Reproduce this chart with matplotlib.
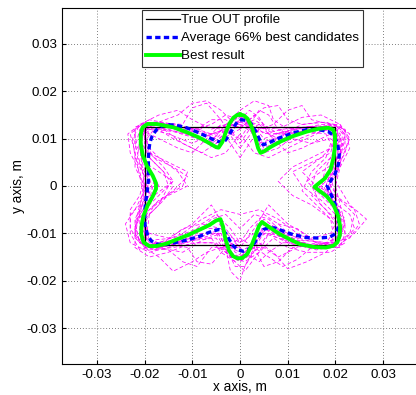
"""
Filename: plot.py
Description: OUT profile reconstruction - true rectangle, candidate
profiles, their average and the best result.
"""
import numpy as np
import matplotlib
matplotlib.use('Agg')
import matplotlib.pyplot as plt

plt.rcParams['font.family'] = ['Liberation Sans', 'DejaVu Sans']

# all coordinates below in mm
true_x = [-20, 20, 20, -20, -20]
true_y = [12.5, 12.5, -12.5, -12.5, 12.5]

best = [(0, 15.1), (0.8, 14.9), (1.6, 14.2), (2.4, 12.6), (3.2, 10.2),
        (3.8, 8.0), (4.3, 7.0), (5.0, 7.3), (6.5, 8.3), (8.5, 9.4), (11, 10.5),
        (14, 11.5), (16.5, 12.1), (18.5, 12.3), (19.5, 11.9), (19.9, 10.8),
        (19.9, 8.5), (19.6, 6), (19, 3.5), (17.8, 1.6), (16.2, 0.3),
        (15.6, -0.2), (16.5, -0.9), (18.2, -2.2), (19.6, -4), (20.6, -6.4),
        (21, -8.6), (20.9, -10.5), (20.4, -11.9), (19.6, -12.6), (18, -13),
        (15.5, -12.9), (12.6, -12.3), (10.5, -11.3), (8.4, -10.2), (6, -8.6),
        (4.6, -7.6), (4.0, -8.4), (3.3, -10.3), (2.4, -12.6), (1.5, -14.4),
        (0.5, -15.2), (-0.5, -15.3), (-1.5, -14.8), (-2.3, -13.6),
        (-3.0, -11.4), (-3.6, -8.5), (-4.1, -7.0), (-5, -7.3), (-6.5, -8.3),
        (-8.4, -9.2), (-11, -10.4), (-13.3, -11.3), (-15.5, -12.2),
        (-17.5, -12.7), (-19, -12.7), (-20.2, -11.9), (-20.7, -10.2),
        (-20.6, -8.2), (-20.2, -6.2), (-19.4, -4.2), (-18.3, -2.2),
        (-17.6, -0.6), (-17.6, 0.6), (-18.3, 2.2), (-19.5, 4.2), (-20.4, 6.5),
        (-20.8, 9), (-20.8, 11), (-20.4, 12.4), (-19.4, 13.1), (-17.5, 13.1),
        (-14, 12.4), (-11, 11.3), (-8.5, 10.2), (-6.5, 9.1), (-5, 8.2),
        (-4.5, 8.1), (-3.7, 9.3), (-3, 11.3), (-2.2, 13.2), (-1.4, 14.4),
        (-0.6, 15), (0, 15.1)]

average = [(0, 14.0), (1.2, 13.9), (2.3, 13.2), (3.3, 11.5), (4.2, 9.6),
           (4.9, 8.7), (6, 9.1), (7.5, 9.8), (9.1, 10.5), (11.5, 11.3),
           (14, 11.9), (16.5, 11.9), (18.5, 11.5), (19.7, 10.6), (20.4, 9),
           (20.8, 6.8), (20.6, 4.5), (19.9, 2.5), (18.8, 0.8), (18.3, 0),
           (18.8, -1.2), (19.6, -2.9), (20.3, -5), (20.7, -7), (20.6, -8.8),
           (20, -10.1), (18.8, -10.8), (16.5, -11), (14, -10.9), (11.2, -10.3),
           (9, -9.5), (7.5, -8.9), (6, -8.8), (4.9, -9.2), (3.8, -10.8),
           (2.8, -12.4), (1.8, -13.4), (0.7, -13.8), (-0.4, -13.5),
           (-1.4, -12.7), (-2.2, -11.4), (-2.9, -10.1), (-3.7, -9.3),
           (-4.5, -9.2), (-6.5, -9.8), (-8.4, -10.6), (-11, -11.4),
           (-13.3, -11.9), (-15.5, -12.3), (-17.5, -12.3), (-18.7, -11.5),
           (-19.4, -10.2), (-19.9, -8.3), (-20, -5.5), (-19.7, -2.9),
           (-19.4, -0.8), (-19.2, 1.3), (-19.2, 3.5), (-19.2, 5.6),
           (-19.1, 7.5), (-18.9, 9.1), (-18.4, 10.6), (-17.5, 11.9),
           (-16.5, 12.6), (-15.4, 13.0), (-13.3, 12.8), (-11.2, 12.3),
           (-9, 11.4), (-7.0, 10.5), (-5.2, 9.6), (-3.5, 9.1), (-2.5, 10.4),
           (-1.4, 12.3), (-0.6, 13.5), (0, 14.0)]

candidates = [
    [(0, 13.5), (3, 12.5), (5, 10), (9, 11.5), (14, 12.5), (19, 12.8), (21, 11),
     (21, 6), (20, 2), (18.5, 0), (20, -3), (21, -7), (21, -11), (19.5, -13),
     (14, -12.5), (9, -11), (5, -9), (3, -12), (0, -14), (-3, -12.5), (-5, -9.5),
     (-9, -11), (-14, -12.5), (-19.5, -13), (-21, -11), (-21, -6), (-20, -2),
     (-19, 1), (-20.5, 5), (-21, 10), (-19.5, 13), (-14, 12.8), (-9, 11.5),
     (-5, 10), (-3, 12), (0, 13.5)],
    [(0, 12), (2, 14), (5, 16.5), (8, 17), (10, 14), (13, 13), (18, 13.5),
     (22, 12), (22, 8), (19, 4), (17, 1), (19, -3), (23, -6), (24, -9),
     (21, -12.5), (16, -13.5), (10, -12), (6, -10), (4, -14), (1, -18),
     (-2, -15), (-4, -10), (-8, -11.5), (-12, -14), (-17, -13), (-21, -12),
     (-22, -8), (-19, -4), (-17, 0), (-19, 4), (-22, 9), (-22, 12.5),
     (-18, 13.5), (-12, 13), (-10, 16.5), (-7, 17.5), (-4, 14), (-2, 11), (0, 12)],
    [(0, 8), (3, 12), (6, 11), (10, 9), (15, 11), (19, 12), (20, 9), (17, 6),
     (13, 3), (16, 0), (20, -2), (21, -6), (19, -10), (15, -11), (10, -8),
     (6, -4), (3, -9), (0, -13), (-3, -9), (-6, -4), (-10, -8), (-15, -11),
     (-19, -10), (-21, -6), (-18, -2), (-14, 1), (-16, 4), (-20, 8), (-19, 12),
     (-15, 11), (-10, 9), (-6, 11), (-3, 12), (0, 8)],
    [(0, 14), (4, 13), (7, 11), (12, 12), (17, 13), (21, 13), (23, 10), (21, 5),
     (20, 1), (23, -4), (26.5, -7), (24, -10), (20, -13), (15, -12.5),
     (11, -13), (8, -16), (5, -17), (3, -13), (0, -11), (-3, -13), (-6, -16.5),
     (-9, -16), (-11, -13), (-16, -12), (-21, -13.5), (-23, -10), (-23, -6),
     (-20, -3), (-21, 2), (-22, 7), (-23, 11), (-20, 13.5), (-15, 13),
     (-10, 12), (-6, 13), (-3, 15), (0, 14)],
    [(0, 11), (3, 7), (6, 6), (10, 8), (14, 10), (18, 12), (20, 11), (19, 7),
     (15, 5), (11, 3), (13, 0), (17, -3), (20, -6), (20, -11), (17, -12.5),
     (12, -10), (8, -7), (4, -5), (0, -6), (-4, -5), (-8, -7), (-12, -10),
     (-17, -12), (-20, -11), (-20, -6), (-17, -3), (-12, 0), (-11, 3),
     (-15, 5), (-19, 7), (-20, 11), (-18, 12.5), (-14, 10), (-10, 8), (-6, 6),
     (-3, 7), (0, 11)],
    [(0, 15.5), (2, 13), (4, 9), (7, 10), (12, 12), (18, 12.5), (20.5, 12),
     (20, 8), (18, 4), (17, 0), (19.5, -4), (21, -8), (20, -12), (18, -14),
     (14, -16), (10, -17.5), (7, -14), (4, -12), (1, -17), (0, -20), (-2, -18),
     (-3, -13), (-6, -13), (-9, -17), (-12, -16), (-15, -13.5), (-20, -13),
     (-22, -10), (-21, -6), (-19, -3), (-18, 1), (-20, 6), (-21, 11), (-18, 13),
     (-13, 12), (-8, 10), (-5, 9), (-2, 13), (0, 15.5)],
    [(0, 16), (3, 18), (6, 17), (7, 14), (10, 12), (15, 12.5), (20, 12),
     (21.5, 9), (20.5, 5), (19, 2), (19, -2), (21, -6), (22, -10), (21, -13),
     (16, -13), (10, -11), (6, -10), (3, -14), (0, -16), (-3, -14), (-5, -11),
     (-10, -11.5), (-15, -13), (-19, -14), (-23, -12), (-24, -8), (-22, -5),
     (-20, -1), (-21, 3), (-23, 7), (-23.5, 11), (-21, 13), (-17, 13.5),
     (-13, 15), (-10, 17.5), (-7, 18), (-4, 16), (-2, 14), (0, 16)],
    [(0, 13), (3, 11), (5, 8), (9, 10), (14, 11.5), (18, 11), (19, 9), (18, 6),
     (15, 3), (13, -1), (16, -4), (19, -7), (19.5, -10), (18, -12),
     (14, -11.5), (9, -10), (5, -7), (3, -10), (0, -12), (-3, -10), (-5, -7),
     (-9, -9.5), (-14, -11.5), (-18, -12), (-19.5, -10), (-19, -6), (-16, -3),
     (-14, 0), (-16, 3), (-19, 6), (-19.5, 10), (-18, 12), (-14, 11.5),
     (-9, 10), (-5, 8), (-3, 11), (0, 13)],
    [(0, 12.5), (3, 14), (6, 12), (9, 12.5), (13, 14.5), (17, 15), (21, 13),
     (22, 10), (21, 6), (19, 2), (20, -2), (24, -5), (25, -8), (23, -11),
     (19, -12), (15, -13), (12, -15.5), (9, -17), (6, -15), (3, -13), (0, -15),
     (-3, -14), (-6, -12), (-10, -12), (-15, -14), (-19, -15), (-22, -13),
     (-22, -9), (-21, -5), (-19, -2), (-20, 2), (-22, 6), (-22.5, 10),
     (-21, 13), (-17, 15), (-13, 16), (-10, 14), (-6, 12), (-3, 13), (0, 12.5)],
    [(0, 10), (2, 13), (4, 16), (6, 15), (8, 12), (11, 10), (15, 9), (19, 10),
     (21, 8), (21, 4), (18, 1), (15, -2), (18, -5), (21, -9), (20, -12.5),
     (16, -12), (12, -9), (8, -8), (4, -11), (1, -14), (-2, -12), (-4, -9),
     (-8, -8), (-12, -9), (-16, -12), (-20, -12.5), (-21, -9), (-19, -5),
     (-15, -2), (-11, 0), (-13, 3), (-17, 6), (-20, 9), (-20, 12), (-16, 12),
     (-12, 9), (-8, 7), (-5, 9), (-2, 11), (0, 10)],
    [(0, 14.5), (3, 13), (5, 11), (9, 12), (14, 12.5), (19, 12.5), (20.5, 10.5),
     (20.5, 6), (19, 2.5), (18, 0), (19.5, -3.5), (20.5, -7.5), (20.5, -11.5),
     (18, -12.8), (13, -12.5), (8, -11), (5, -10), (3, -13), (0, -15),
     (-3, -13.5), (-5, -10), (-8, -11), (-13, -12.5), (-18, -13), (-20.5, -11.5),
     (-20.5, -7), (-19.5, -3), (-18.5, 0), (-19.5, 3.5), (-20.5, 8),
     (-20.5, 11.5), (-18, 13), (-13, 12.5), (-8, 11.5), (-5, 10.5), (-3, 13),
     (0, 14.5)],
    [(0, 14), (3, 11), (5, 7), (8, 8), (12, 11), (17, 12.5), (20, 12), (19, 8),
     (15, 6), (11, 4), (8, 1), (11, -2), (15, -4), (19, -7), (21, -10),
     (19, -12), (13, -11.5), (8, -9), (5, -8), (3, -13), (1, -17), (-1, -17),
     (-3, -13), (-5, -9), (-9, -9), (-14, -11), (-19, -11.5), (-20, -8),
     (-18, -4), (-14, -1), (-11, 2), (-14, 4), (-18, 6), (-20, 9), (-20, 12.5),
     (-16, 13), (-11, 11), (-6, 9), (-3, 11), (0, 14)],
    [(0, 12), (3, 15), (5, 13), (8, 11), (12, 11.5), (17, 12), (21, 12.5),
     (23, 11), (22, 7), (20, 3), (18, -1), (20, -4), (22, -8), (22, -12),
     (19, -14), (14, -14), (10, -13), (7, -11), (4, -14), (1, -16), (-2, -15),
     (-5, -12), (-9, -12), (-14, -13), (-19, -13.5), (-22, -11), (-22, -7),
     (-20, -3), (-19, 1), (-21, 5), (-22, 9), (-22, 12), (-19, 14), (-14, 13),
     (-9, 12), (-6, 14), (-3, 14), (0, 12)],
    [(0, 9), (2, 12), (4, 13), (7, 10), (10, 7), (13, 8), (17, 10), (20, 11.5),
     (21, 9), (20, 5), (17, 3), (14, 1), (17, -2), (20, -5), (20.5, -9),
     (19, -12), (15, -12.5), (11, -11), (8, -8), (5, -6), (2, -9), (0, -12),
     (-2, -9), (-5, -6), (-8, -8), (-11, -11), (-15, -12.5), (-19, -12),
     (-20.5, -9), (-20, -5), (-17, -2), (-14, 1), (-17, 3), (-20, 5), (-21, 9),
     (-20, 11.5), (-17, 10), (-13, 8), (-10, 7), (-7, 10), (-4, 13), (-2, 12),
     (0, 9)],
    [(0, 13), (4, 12), (7, 13), (10, 16), (13, 17), (15, 14), (19, 13), (22, 12),
     (23, 8), (21, 4), (20, 0), (21, -4), (22, -8), (21, -11), (18, -13),
     (13, -12), (9, -12), (6, -14), (4, -16), (1, -14), (-1, -12), (-4, -13),
     (-7, -14), (-10, -16), (-14, -18), (-17, -15), (-20, -13), (-22, -10),
     (-21, -5), (-20, 0), (-22, 4), (-22, 8), (-21, 12), (-17, 13.5),
     (-12, 12), (-8, 11), (-5, 11), (-2, 13), (0, 13)],
    [(0, 15), (2, 12), (5, 9), (10, 11), (15, 12), (20, 13), (22, 11), (21, 7),
     (19, 3), (18, 0), (20, -4), (22, -7), (21, -11), (19, -13), (15, -13),
     (10, -12), (6, -9), (3, -11), (1, -15), (-1, -14), (-4, -10), (-8, -10),
     (-13, -12), (-18, -13.5), (-21, -12), (-23, -9), (-23, -5), (-21, -2),
     (-20, 2), (-21.5, 6), (-21, 10), (-19, 12.5), (-15, 12), (-10, 10.5),
     (-6, 9.5), (-3, 13), (0, 15)],
    [(0, 6), (2, 9), (4, 12), (7, 12.5), (11, 11), (16, 12), (20, 12.5), (21, 10),
     (19, 6), (16, 3), (15, 0), (17, -4), (20, -7), (20, -11), (17, -13),
     (13, -12), (9, -10), (6, -7), (3, -6), (0, -9), (-3, -6), (-6, -7),
     (-9, -10), (-13, -12), (-17, -13), (-20, -11), (-20, -7), (-17, -4),
     (-15, 0), (-16, 3), (-19, 6), (-21, 10), (-20, 12.5), (-16, 12),
     (-11, 11), (-7, 12.5), (-4, 12), (-2, 9), (0, 6)],
    [(0, 14), (2, 16), (4, 14.5), (6, 11), (9, 11), (13, 13), (17, 13.5),
     (20, 13), (21.5, 11), (21, 7), (20, 3), (19, 0), (21, -3), (24, -6),
     (23, -10), (20, -12.5), (16, -12), (12, -13), (8, -15), (5, -13), (2, -13),
     (-1, -16), (-4, -14), (-6, -11), (-10, -11), (-14, -12), (-18, -12.5),
     (-21, -12), (-22, -8), (-21, -4), (-20, 0), (-20.5, 4), (-21, 8),
     (-20, 12), (-17, 13), (-13, 12.5), (-9, 12), (-6, 11), (-3, 12), (0, 14)],
]

ticks = [-0.03, -0.02, -0.01, 0, 0.01, 0.02, 0.03]
tick_labels = ['-0.03', '-0.02', '-0.01', '0', '0.01', '0.02', '0.03']

fig = plt.figure(figsize=(4.16, 3.95), dpi=100)
ax = fig.add_axes([62/416, 31/395, 356/416, 356/395])

for c in candidates:
    c = np.array(c) * 1e-3
    ax.plot(c[:, 0], c[:, 1], color='#ff00ff', lw=0.55, dashes=(5, 3))

ax.plot(np.array(true_x)*1e-3, np.array(true_y)*1e-3, color='k', lw=0.9,
        label='True OUT profile')
a = np.array(average) * 1e-3
ax.plot(a[:, 0], a[:, 1], color='#0000ff', lw=2.4, dashes=(1.6, 1.0),
        label='Average 66% best candidates')
b = np.array(best) * 1e-3
ax.plot(b[:, 0], b[:, 1], color='#00ff00', lw=2.8, label='Best result')

ax.set_xlim(-0.0373, 0.0373)
ax.set_ylim(-0.0376, 0.0376)
ax.set_xticks(ticks)
ax.set_xticklabels(tick_labels)
ax.set_yticks(ticks)
ax.set_yticklabels(tick_labels)
ax.tick_params(direction='in', length=3, labelsize=9.6, pad=3.5)
ax.grid(True, color='#555555', linestyle=(0, (1, 2.5)), linewidth=0.6)
for s in ax.spines.values():
    s.set_linewidth(0.8)

ax.set_xlabel('x axis, m', fontsize=9.8, labelpad=-0.5)
ax.set_ylabel('y axis, m', fontsize=9.8, labelpad=1)

leg = ax.legend(loc='upper left', bbox_to_anchor=(0.2247, 0.995),
                borderaxespad=0, fontsize=9.6, fancybox=False, framealpha=1,
                edgecolor='#333333', handlelength=2.5, handletextpad=0.1,
                labelspacing=0.42, borderpad=0.32)
leg.get_frame().set_linewidth(0.8)

plt.savefig('out.png', dpi=100)
